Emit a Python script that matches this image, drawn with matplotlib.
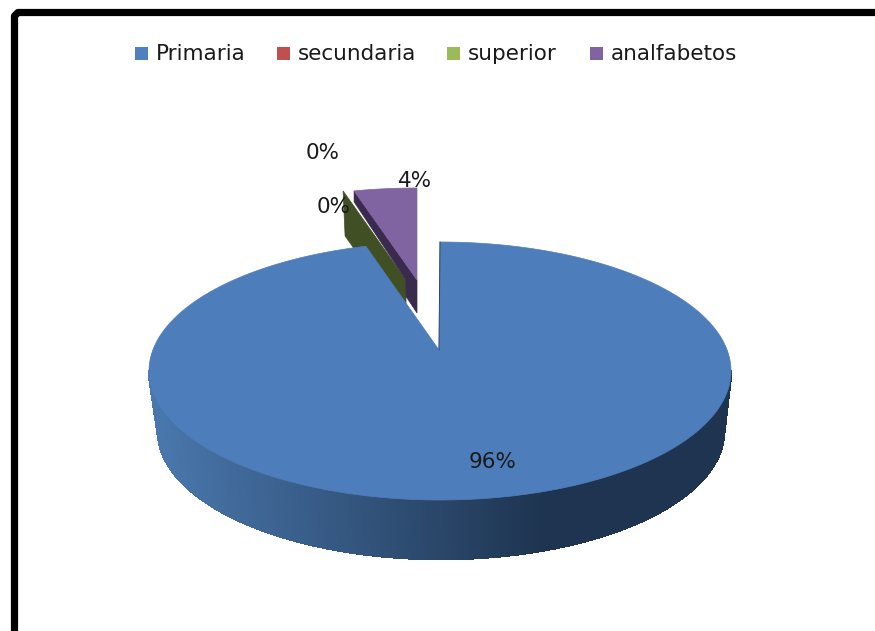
import matplotlib
matplotlib.use("Agg")
import matplotlib.pyplot as plt
from matplotlib.patches import Polygon, Rectangle
import numpy as np

categorias = ["Primaria", "secundaria", "superior", "analfabetos"]
valores = [95.9, 0.05, 0.05, 4.0]
etiquetas = ["96%", "0%", "0%", "4%"]
colores = ["#4f81bd", "#c0504d", "#9bbb59", "#8064a2"]

plt.rcParams["font.family"] = "DejaVu Sans"

fig = plt.figure(figsize=(8.75, 6.31), dpi=100)
ax = fig.add_axes([0, 0, 1, 1])
ax.set_xlim(0, 875)
ax.set_ylim(631, 0)
ax.axis("off")

# marco negro
ax.plot([875, 18, 14.5, 14.5], [12.5, 12.5, 16, 631], color="black", lw=5.2,
        solid_joinstyle="round")

# angulos de cada porcion, desde las 12 en sentido horario
fin = np.cumsum(valores) / sum(valores) * 360
ini = np.concatenate([[0], fin[:-1]])


def borde(t, cx=440, cy=371, a=291, b=129):
    t = np.radians(t)
    return cx + a * np.sin(t), cy - b * np.cos(t)


def mezcla(c1, c2, f):
    c1 = np.array(matplotlib.colors.to_rgb(c1))
    c2 = np.array(matplotlib.colors.to_rgb(c2))
    return tuple(c1 + (c2 - c1) * f)


# pared de la porcion grande
ts = np.linspace(270, 90, 400)
for t0, t1 in zip(ts[:-1], ts[1:]):
    x0, y0 = borde(t0)
    x1, y1 = borde(t1)
    x2, y2 = borde(t1, 441, 431, 283, 128)
    x3, y3 = borde(t0, 441, 431, 283, 128)
    # sombra segun la posicion horizontal
    c = mezcla("#4a78ae", "#1e3450", np.clip((x0 - 150) / 395, 0, 1))
    ax.add_patch(Polygon([(x0, y0), (x1, y1), (x2, y2), (x3, y3)], closed=True,
                         fc=c, ec=c, lw=1.2, antialiased=False))

# porcion superior (verde), apenas visible: solo se ve su corte
ang = ini[3]
ap = (406, 280)
xf, yf = borde(ang, ap[0], ap[1], 253, 92)
ax.add_patch(Polygon([(xf, yf), ap, (ap[0], ap[1] + 43), (xf + 2, yf + 45)], closed=True,
                     fc="#414f24", ec="#414f24", lw=0.5))

# porcion analfabetos
ap = (417, 280)
ts = np.linspace(ini[3], 360, 30)
xs, ys = borde(ts, ap[0], ap[1], 253, 92)
xl, yl = xs[0], ys[0]
xk = xl + (ap[0] - xl) * 0.825
yk = yl + (ap[1] - yl) * 0.825
ax.add_patch(Polygon([(xl, yl), ap, (ap[0], ap[1] + 33), (xk, yk + 32), (xk, yk + 15.5),
                      (xl, yl + 11)], closed=True, fc="#3a2a4e", ec="#3a2a4e", lw=0.5))
ax.add_patch(Polygon(list(zip(xs, ys)) + [ap], closed=True, fc=colores[3], ec=colores[3], lw=0.5))

# porcion grande, cara superior
ap = (439, 350)
ts = np.linspace(ini[0], fin[0], 400)
xs, ys = borde(ts)
ax.add_patch(Polygon([ap] + list(zip(xs, ys)), closed=True, fc="#4d7ebb", ec="#4d7ebb", lw=0.5))
ax.plot([xs[0], ap[0]], [ys[0], ap[1]], color="#2c4a70", lw=0.7)

# etiquetas de porcentaje
pos_etiq = [(493, 468), (323, 159), (334, 213), (415, 187)]
for e, (x, y) in zip(etiquetas, pos_etiq):
    ax.text(x, y, e, fontsize=15.5, color="#1a1a1a", ha="center", va="baseline")

# leyenda
pos_ley = [135, 277, 447, 590]
for nombre, color, x in zip(categorias, colores, pos_ley):
    ax.add_patch(Rectangle((x, 47), 13, 13, fc=color, ec="none"))
    ax.text(x + 21, 60, nombre, fontsize=15.5, color="#1a1a1a", ha="left", va="baseline")

fig.savefig("out.png", dpi=100)
